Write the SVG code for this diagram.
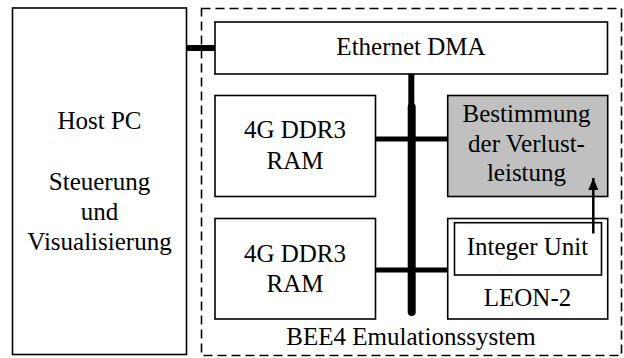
<svg xmlns="http://www.w3.org/2000/svg" width="624" height="358" viewBox="0 0 624 358">
<style>
.box{fill:#fff;stroke:#000;stroke-width:1.6}
.gray{fill:#c0c0c0;stroke:#000;stroke-width:1.6}
.dash{fill:none;stroke:#000;stroke-width:1.6;stroke-dasharray:9 5}
text{font-family:'Liberation Serif','Times New Roman',serif;font-size:25px;fill:#000;text-anchor:middle}
.bus{stroke:#000;fill:none}
</style>
<defs>
<marker id="ah" viewBox="0 0 12 10" refX="12" refY="5" markerWidth="12" markerHeight="10" markerUnits="userSpaceOnUse" orient="auto">
<path d="M0,0 L12,5 L0,10 Z" fill="#000"/>
</marker>
</defs>
<rect width="624" height="358" fill="#fff"/>
<g id="system">
<rect class="dash" x="201.5" y="8.5" width="420" height="347"/>
<text x="411" y="345">BEE4 Emulationssystem</text>
</g>
<g id="host">
<rect class="box" x="12.5" y="8" width="174" height="346.5"/>
<text x="99.5" y="128.5">Host PC</text>
<text x="99.5" y="190">Steuerung</text>
<text x="99.5" y="220">und</text>
<text x="99.5" y="250">Visualisierung</text>
</g>
<g id="ethernet">
<rect class="box" x="215" y="22" width="392.5" height="52"/>
<text x="411" y="55">Ethernet DMA</text>
</g>
<g id="ram1">
<rect class="box" x="215" y="95.5" width="160.5" height="101"/>
<text x="295" y="137.5">4G DDR3</text>
<text x="295" y="169">RAM</text>
</g>
<g id="ram2">
<rect class="box" x="215" y="218.5" width="160.5" height="100.5"/>
<text x="295" y="262">4G DDR3</text>
<text x="295" y="292">RAM</text>
</g>
<g id="verlust">
<rect class="gray" x="447.7" y="95.5" width="160" height="101"/>
<text x="526.5" y="121.7">Bestimmung</text>
<text x="526.5" y="151.5">der Verlust-</text>
<text x="526.5" y="180.5">leistung</text>
</g>
<g id="leon">
<rect class="box" x="447.7" y="218.5" width="160" height="100.5"/>
<text x="527.5" y="306">LEON-2</text>
</g>
<g id="iu">
<rect class="box" x="454.5" y="222.7" width="147" height="52.3"/>
<text x="527.5" y="255">Integer Unit</text>
</g>
<g id="connectors">
<line class="bus" x1="186.5" y1="48" x2="215" y2="48" stroke-width="6"/>
<line class="bus" x1="411.3" y1="74" x2="411.3" y2="108" stroke-width="6"/>
<line class="bus" x1="411.7" y1="107" x2="411.7" y2="312" stroke-width="8" stroke-linecap="round"/>
<line class="bus" x1="375.5" y1="139" x2="447.7" y2="139" stroke-width="5"/>
<line class="bus" x1="375.5" y1="270" x2="447.7" y2="270" stroke-width="5"/>
<line class="bus" x1="593.3" y1="233.5" x2="593.3" y2="178" stroke-width="2.5" marker-end="url(#ah)"/>
</g>
</svg>
